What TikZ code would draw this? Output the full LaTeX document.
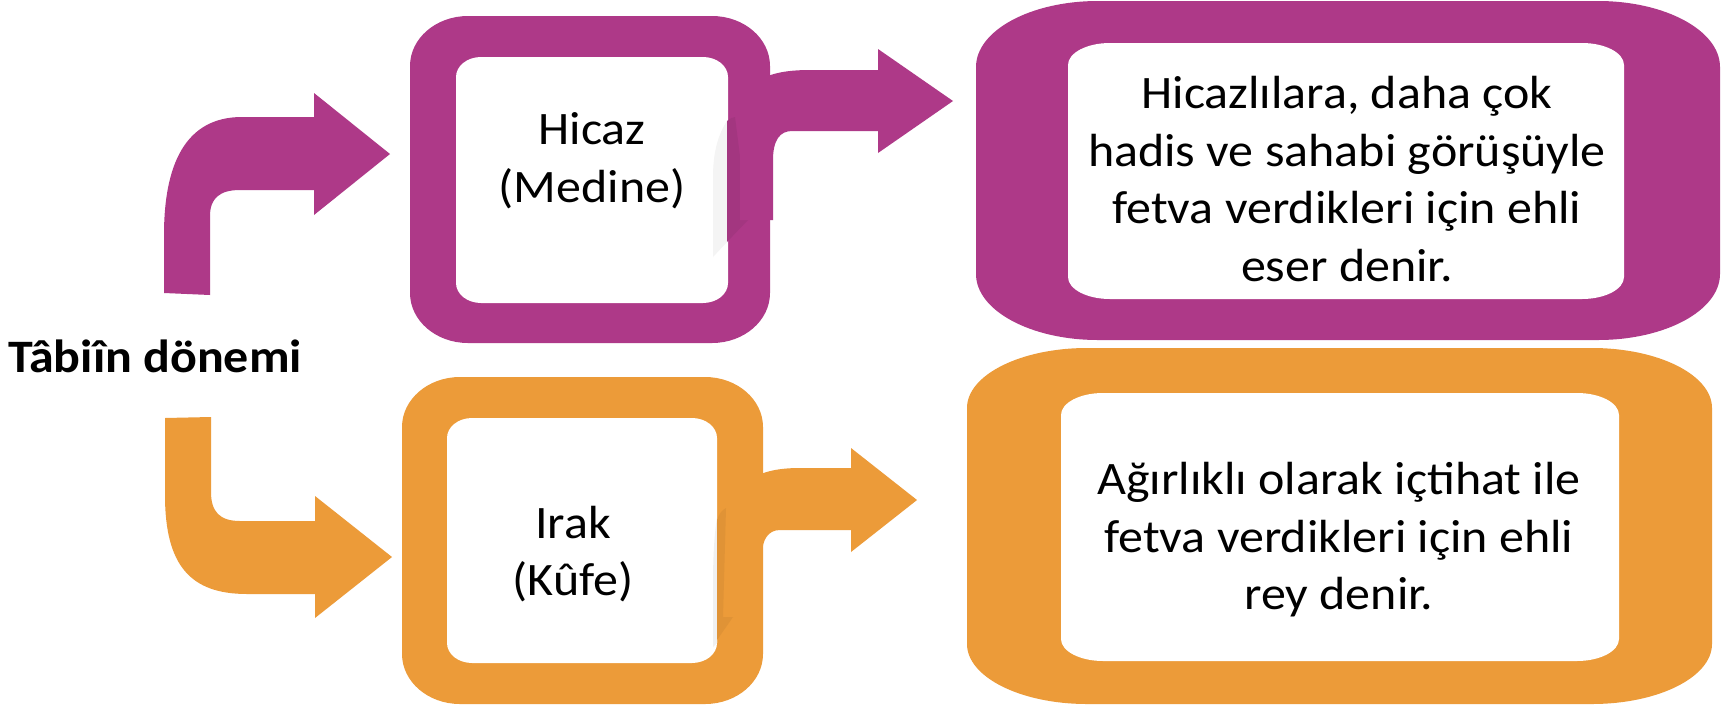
\documentclass[tikz,border=0pt]{standalone}
\usepackage{fontspec}
\setmainfont{Carlito}[FakeStretch=1.075]
\definecolor{purp}{RGB}{174,57,136}
\definecolor{orng}{RGB}{236,155,57}
\newcommand\ellrectfill[7]{%
\fill[#1] (#2,{#3+#7}) -- (#2,{#5-#7})
 .. controls (#2,{#5-0.448*#7}) and ({#2+0.448*#6},#5) .. ({#2+#6},#5)
 -- ({#4-#6},#5)
 .. controls ({#4-0.448*#6},#5) and (#4,{#5-0.448*#7}) .. (#4,{#5-#7})
 -- (#4,{#3+#7})
 .. controls (#4,{#3+0.448*#7}) and ({#4-0.448*#6},#3) .. ({#4-#6},#3)
 -- ({#2+#6},#3)
 .. controls ({#2+0.448*#6},#3) and (#2,{#3+0.448*#7}) .. (#2,{#3+#7}) -- cycle;}
\tikzset{
  txt/.style={inner sep=0pt, align=center, font=\fontsize{46.5pt}{57.5pt}\selectfont, text=black},
  title/.style={inner sep=0pt, font=\fontsize{46.5pt}{57.5pt}\selectfont\bfseries, text=black}
}
\begin{document}
\begin{tikzpicture}[x=1pt,y=-1pt]
\useasboundingbox (0,0) rectangle (1725,705);
\fill[white] (0,0) rectangle (1725,705);
% left bent arrows
\fill[purp] (164,293) -- (164,235) .. controls (164,165) and (185,117) .. (242,117) -- (314,117) -- (314,93) -- (390,154) -- (314,215) -- (314,190) -- (240,190) .. controls (220,190) and (210,198) .. (210,216) -- (210,295) -- cycle;
\fill[orng] (165,418) -- (211,417) -- (211,492) .. controls (211,512) and (220,521) .. (240,521) -- (315,521) -- (315,496) -- (392,557) -- (315,618) -- (315,594) -- (247,594) .. controls (190,594) and (165,565) .. (165,495) -- cycle;
% middle boxes
\ellrectfill{purp}{410}{16}{770}{343}{58}{50}
\ellrectfill{white}{456}{57}{728}{303}{25}{20}
\ellrectfill{orng}{402}{377}{763}{704}{58}{50}
\ellrectfill{white}{447}{418}{717}{663}{25}{20}
% faint shadows
\fill[gray!9] (713,257) -- (713,178) .. controls (713,152) and (718,135) .. (727,121) -- (727,242) -- cycle;
\fill[purp!94!black] (727,121) .. controls (730,119) and (732,117) .. (735,117) -- (748,220) -- (727,242) -- cycle;
\fill[gray!12] (713,647) -- (713,585) .. controls (713,550) and (715,530) .. (717,518) -- (717,643) -- cycle;
\fill[orng!95!black] (717,640) -- (717,520) .. controls (719,514) and (722,510) .. (726,508) -- (723,617) -- (733,617) -- cycle;
% right arrows
\fill[purp] (740,220) -- (740,125) .. controls (740,85) and (760,70) .. (810,70) -- (878,70) -- (878,49) -- (953,101) -- (878,153) -- (878,131) -- (792,131) .. controls (780,131) and (773,140) .. (773,160) -- (773,220) -- cycle;
\fill[orng] (735,630) -- (735,520) .. controls (735,485) and (752,468) .. (800,468) -- (851,468) -- (851,448) -- (917,500) -- (851,552) -- (851,530) -- (780,530) .. controls (768,530) and (762,540) .. (762,555) -- (762,630) -- cycle;
% big boxes
\ellrectfill{purp}{976}{1}{1720}{340}{122}{66}
\ellrectfill{white}{1068}{43}{1624}{299}{42}{22}
\ellrectfill{orng}{967}{348}{1712}{704}{120}{60}
\ellrectfill{white}{1061}{393}{1619}{661}{42}{22}
% texts
\node[title, anchor=base west] (tabiin) at (8,372) {Tâbiîn dönemi};
\node[txt] (hicaz) at (592,160.5) {Hicaz\\(Medine)};
\node[txt] (irak) at (573,554) {Irak\\(Kûfe)};
\node[txt] (eser) at (1347,179) {Hicazlılara, daha çok\\hadis ve sahabi görüşüyle\\fetva verdikleri için ehli\\eser denir.};
\node[txt] (rey) at (1339,540) {Ağırlıklı olarak içtihat ile\\fetva verdikleri için ehli\\rey denir.};
\end{tikzpicture}
\end{document}
